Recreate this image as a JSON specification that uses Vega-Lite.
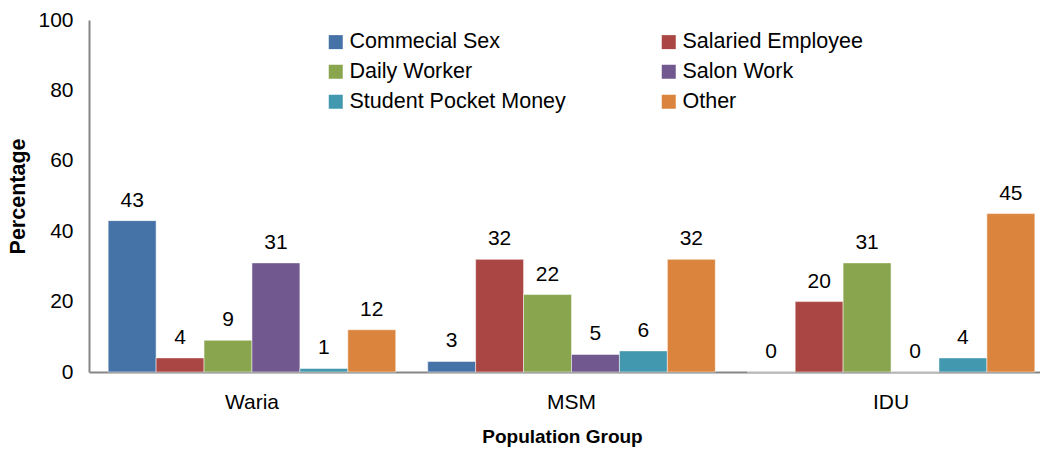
{
  "$schema": "https://vega.github.io/schema/vega-lite/v6.json",
  "width": 965,
  "height": 352,
  "autosize": "none",
  "padding": {"left": 89, "top": 20, "right": 0, "bottom": 78},
  "background": "white",
  "config": {
    "view": {"stroke": null},
    "font": "Liberation Sans"
  },
  "data": {
    "values": [
      {"group": "Waria", "source": "Commecial Sex", "pct": 43},
      {"group": "Waria", "source": "Salaried Employee", "pct": 4},
      {"group": "Waria", "source": "Daily Worker", "pct": 9},
      {"group": "Waria", "source": "Salon Work", "pct": 31},
      {"group": "Waria", "source": "Student Pocket Money", "pct": 1},
      {"group": "Waria", "source": "Other", "pct": 12},
      {"group": "MSM", "source": "Commecial Sex", "pct": 3},
      {"group": "MSM", "source": "Salaried Employee", "pct": 32},
      {"group": "MSM", "source": "Daily Worker", "pct": 22},
      {"group": "MSM", "source": "Salon Work", "pct": 5},
      {"group": "MSM", "source": "Student Pocket Money", "pct": 6},
      {"group": "MSM", "source": "Other", "pct": 32},
      {"group": "IDU", "source": "Commecial Sex", "pct": 0},
      {"group": "IDU", "source": "Salaried Employee", "pct": 20},
      {"group": "IDU", "source": "Daily Worker", "pct": 31},
      {"group": "IDU", "source": "Salon Work", "pct": 0},
      {"group": "IDU", "source": "Student Pocket Money", "pct": 4},
      {"group": "IDU", "source": "Other", "pct": 45}
    ]
  },
  "encoding": {
    "x": {
      "field": "group",
      "type": "nominal",
      "sort": ["Waria", "MSM", "IDU"],
      "scale": {"paddingInner": 0.1, "paddingOuter": 0.06},
      "axis": {
        "title": "Population Group",
        "labelAngle": 0,
        "labelFontSize": 21,
        "labelColor": "#000000",
        "labelPadding": 19,
        "ticks": false,
        "domainColor": "#868686",
        "domainWidth": 2,
        "titleFontSize": 19,
        "titleFontWeight": "bold",
        "titleColor": "#000000",
        "titlePadding": 15,
        "titleX": 473,
        "titleAnchor": "middle"
      }
    },
    "xOffset": {
      "field": "source",
      "type": "nominal",
      "sort": ["Commecial Sex", "Salaried Employee", "Daily Worker", "Salon Work", "Student Pocket Money", "Other"],
      "scale": {"paddingInner": 0, "paddingOuter": 0}
    },
    "y": {
      "field": "pct",
      "type": "quantitative",
      "scale": {"domain": [0, 100]},
      "axis": {
        "title": "Percentage",
        "values": [0, 20, 40, 60, 80, 100],
        "grid": false,
        "ticks": false,
        "labelFontSize": 21,
        "labelColor": "#000000",
        "labelPadding": 16,
        "domainColor": "#868686",
        "domainWidth": 2,
        "titleFontSize": 21.5,
        "titleFontWeight": "bold",
        "titleColor": "#000000",
        "titlePadding": 8
      }
    }
  },
  "layer": [
    {
      "mark": {"type": "bar", "stroke": "white", "strokeWidth": 0.5},
      "encoding": {
        "color": {
          "field": "source",
          "type": "nominal",
          "sort": ["Commecial Sex", "Salaried Employee", "Daily Worker", "Salon Work", "Student Pocket Money", "Other"],
          "scale": {
            "domain": ["Commecial Sex", "Salaried Employee", "Daily Worker", "Salon Work", "Student Pocket Money", "Other"],
            "range": ["#4572A7", "#AA4643", "#89A54E", "#71588F", "#4198AF", "#DB843D"]
          },
          "legend": {
            "title": null,
            "orient": "none",
            "legendX": 236,
            "legendY": 11,
            "columns": 2,
            "direction": "horizontal",
            "columnPadding": 92,
            "rowPadding": 7,
            "symbolType": "square",
            "symbolSize": 196,
            "symbolStrokeWidth": 0,
            "symbolOpacity": 1,
            "labelFontSize": 21.5,
            "labelColor": "#000000",
            "labelOffset": 3,
            "labelLimit": 300
          }
        }
      }
    },
    {
      "mark": {"type": "text", "dy": -20, "fontSize": 21, "color": "#000000"},
      "encoding": {
        "text": {"field": "pct", "type": "quantitative"}
      }
    }
  ]
}
